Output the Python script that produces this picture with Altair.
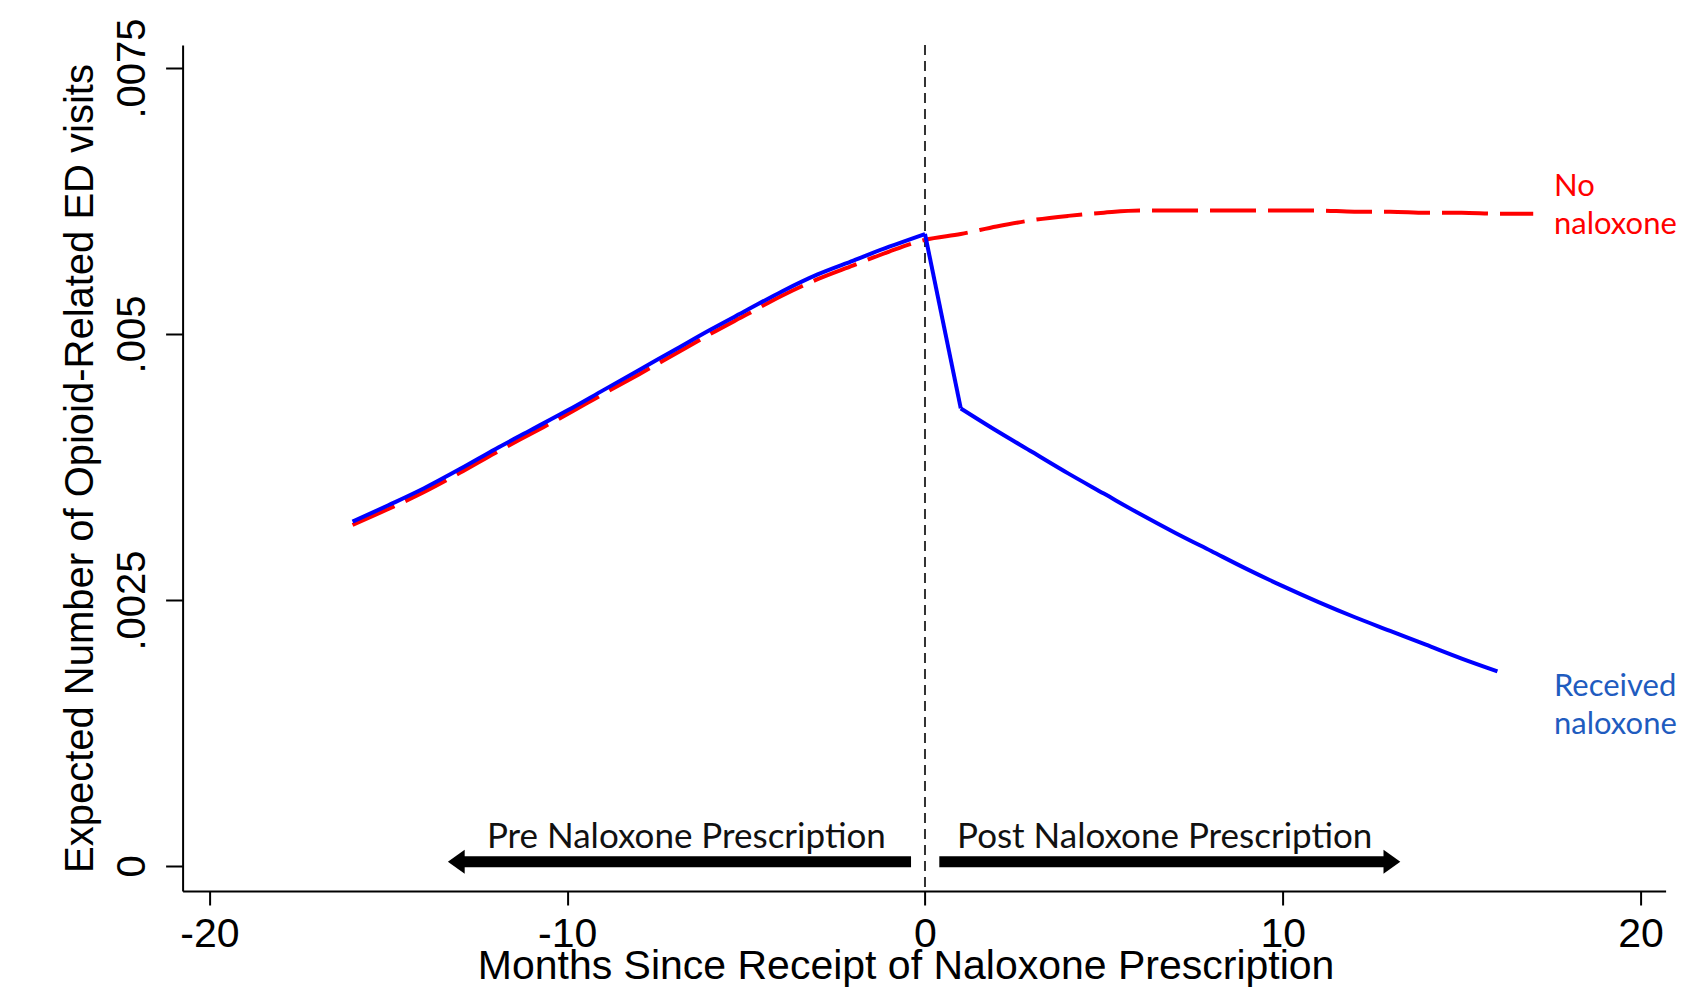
import altair as alt
import pandas as pd

# ---- data ----
recv_months = list(range(-16, 17))
recv_values = [0.003236, 0.00339, 0.00355, 0.00373, 0.00392, 0.00410, 0.00428, 0.00447,
               0.00466, 0.00485, 0.00504, 0.00522, 0.00540, 0.00556, 0.00569, 0.00582,
               0.00594,
               0.00430, 0.00409, 0.00389, 0.00369, 0.00350, 0.00331, 0.00313, 0.00296,
               0.00279, 0.00263, 0.00248, 0.00234, 0.00221, 0.00208, 0.00195, 0.00183]

no_months = list(range(-16, 18))
no_values = [0.003205, 0.003355, 0.003515, 0.003695, 0.003885, 0.004065, 0.004245, 0.004435,
             0.004620, 0.004810, 0.005000, 0.005180, 0.005360, 0.005515, 0.005645, 0.005775,
             0.005885,
             0.00594, 0.00601, 0.00607, 0.00611, 0.00614, 0.00616, 0.00616, 0.00616,
             0.00616, 0.00616, 0.00616, 0.00615, 0.00615, 0.00614, 0.00614, 0.00613, 0.00613]

x_ticks = [-20, -10, 0, 10, 20]
y_ticks = [0, 0.0025, 0.005, 0.0075]

region_texts = ["Pre Naloxone Prescription", "Post Naloxone Prescription"]
region_x = [-6.67, 6.70]
region_y = [0.00027, 0.00027]

arrow_start = [-0.39, 0.40]
arrow_end = [-13.0, 12.95]
arrow_y = [0.00004, 0.00004]

series_labels = ["No\nnaloxone", "Received\nnaloxone"]
series_label_x = [17.58, 17.58]
series_label_y = [0.006381, 0.001682]
series_label_colors = ["#ff0000", "#1f5cbf"]

# ---- tables ----
df_recv = pd.DataFrame({"month": recv_months, "value": recv_values})
df_no = pd.DataFrame({"month": no_months, "value": no_values})
df_region = pd.DataFrame({"month": region_x, "value": region_y, "label": region_texts})
df_arrow = pd.DataFrame({"month": arrow_start, "month2": arrow_end, "value": arrow_y})
df_head_l = pd.DataFrame({"month": [arrow_end[0]], "value": [arrow_y[0]]})
df_head_r = pd.DataFrame({"month": [arrow_end[1]], "value": [arrow_y[1]]})
df_lab = pd.DataFrame({"month": series_label_x, "value": series_label_y,
                       "label": series_labels, "col": series_label_colors})
df_zero = pd.DataFrame({"month": [0]})

x_scale = alt.Scale(domain=[-20.75, 20.7], nice=False, zero=False)
y_scale = alt.Scale(domain=[-0.000235, 0.007716], nice=False, zero=False)

x_axis = alt.Axis(
    values=x_ticks,
    labelExpr="datum.value < 0 ? '-' + abs(datum.value) : '' + datum.value",
    title="Months Since Receipt of Naloxone Prescription",
    grid=False, tickSize=14, labelPadding=10, labelFontSize=41,
    labelFlush=False, labelOverlap=False,
    titleX=723, titleY=88, titleAlign="center", titleBaseline="alphabetic",
    titleFontSize=41,
)
y_axis = alt.Axis(
    values=y_ticks,
    labelExpr="datum.value == 0 ? '0' : substring(format(datum.value, '.4~f'), 1)",
    title="Expected Number of Opioid-Related ED visits",
    grid=False, tickSize=17, labelPadding=21, labelFontSize=40,
    labelAngle=270, labelAlign="center", labelBaseline="alphabetic",
    labelFlush=False, labelOverlap=False,
    titleAngle=270, titleAlign="center", titleBaseline="alphabetic",
    titleX=-90, titleY=423, titleFontSize=40,
)

X = alt.X("month:Q", scale=x_scale, axis=x_axis)
Y = alt.Y("value:Q", scale=y_scale, axis=y_axis)

vline = alt.Chart(df_zero).mark_rule(color="#333333", strokeWidth=2, strokeDash=[10, 6]).encode(x=X)

red_line = alt.Chart(df_no).mark_line(color="#ff0000", strokeWidth=4, strokeDash=[46, 12],
                                      interpolate="monotone").encode(x=X, y=Y)
blue_pre = alt.Chart(df_recv[df_recv["month"] <= 0]).mark_line(
    color="#0000ff", strokeWidth=4, interpolate="monotone").encode(x=X, y=Y)
blue_jump = alt.Chart(df_recv[(df_recv["month"] >= 0) & (df_recv["month"] <= 1)]).mark_line(
    color="#0000ff", strokeWidth=4).encode(x=X, y=Y)
blue_post = alt.Chart(df_recv[df_recv["month"] >= 1]).mark_line(
    color="#0000ff", strokeWidth=4, interpolate="monotone").encode(x=X, y=Y)

arrows = alt.Chart(df_arrow).mark_rule(color="black", strokeWidth=11, strokeCap="butt").encode(
    x=X, x2="month2:Q", y=Y)
head_l = alt.Chart(df_head_l).mark_point(
    shape="M -1 0 L 0.4 -1 L 0.4 1 Z", filled=True, size=576, color="black", opacity=1, strokeWidth=0
).encode(x=X, y=Y)
head_r = alt.Chart(df_head_r).mark_point(
    shape="M 1 0 L -0.4 -1 L -0.4 1 Z", filled=True, size=576, color="black", opacity=1, strokeWidth=0
).encode(x=X, y=Y)

region_text = alt.Chart(df_region).mark_text(
    font="Lato", fontSize=35, color="#111111", align="center", baseline="middle"
).encode(x=X, y=Y, text="label:N")

labels = alt.Chart(df_lab).mark_text(
    font="Lato", fontSize=31, align="left", baseline="middle", lineBreak="\n", lineHeight=38
).encode(x=X, y=Y, text="label:N", color=alt.Color("col:N", scale=None))

chart = alt.layer(vline, red_line, blue_pre, blue_jump, blue_post, arrows, head_l, head_r,
                  region_text, labels).properties(
    width=1483, height=846,
    padding={"left": 174.6, "top": 37, "right": 20, "bottom": 97},
    autosize=alt.AutoSizeParams(type="none"),
).configure_view(stroke=None).configure_axis(
    domainColor="black", domainWidth=2, tickColor="black", tickWidth=2,
    labelColor="black", titleColor="black",
    labelFont="Liberation Sans", titleFont="Liberation Sans", titleFontWeight="normal",
)

chart.save("out.html", embed_options={"renderer": "svg", "actions": False})
